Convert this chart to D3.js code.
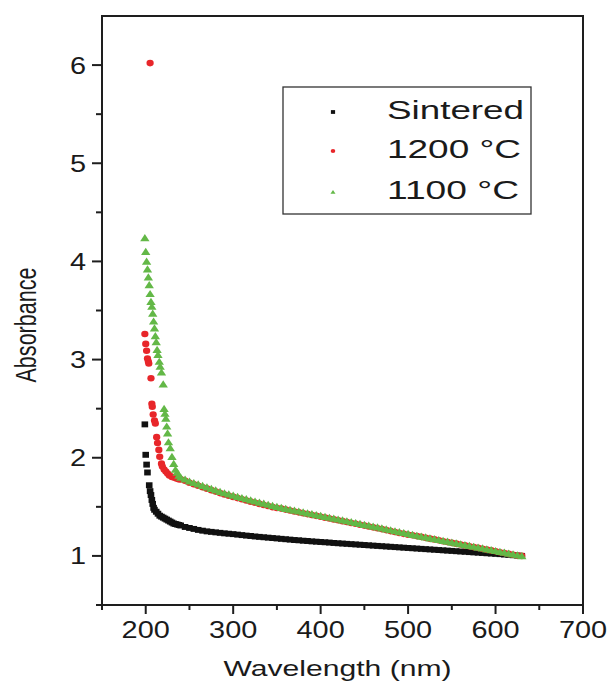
<!DOCTYPE html>
<html lang="en">
<head>
    <meta charset="UTF-8">
    <title>Absorbance</title>
    <script src="https://d3js.org/d3.v7.min.js"></script>
    <style>
        body { margin: 0; background: #fff; }
        text {
            font-family: 'Liberation Sans', Arial, sans-serif;
            fill: #1a1a1a;
        }
    </style>
</head>
<body>
<script>

    // wavelength grid (nm) for the smooth part of all three curves
    const gridNm = [240,245,250,255,260,265,270,275,280,285,290,295,300,305,310,315,320,325,330,335,340,345,350,
        355,360,365,370,375,380,385,390,395,400,405,410,415,420,425,430,435,440,445,450,455,460,465,470,475,480,485,490,495,500,
        505,510,515,520,525,530,535,540,545,550,555,560,565,570,575,580,585,590,595,600,605,610,615,620,625,630];

    const sinteredGrid = [1.31,1.295,1.285,1.275,1.265,1.257,1.25,1.245,1.24,1.235,1.23,1.226,1.222,1.217,1.212,1.207,1.203,1.198,1.194,1.19,1.186,1.182,1.178,
        1.174,1.17,1.166,1.162,1.159,1.155,1.152,1.148,1.145,1.142,1.139,1.136,1.132,1.129,1.126,1.123,1.12,1.117,1.114,1.111,1.108,1.105,1.102,1.099,1.096,1.093,1.09,1.087,1.084,1.081,
        1.078,1.075,1.072,1.069,1.066,1.063,1.06,1.057,1.054,1.051,1.048,1.045,1.042,1.039,1.036,1.033,1.03,1.027,1.024,1.021,1.018,1.014,1.011,1.007,1.004,1.0];

    const c1200Grid = [1.78,1.765,1.745,1.73,1.715,1.70,1.685,1.67,1.655,1.64,1.625,1.613,1.601,1.589,1.577,1.565,1.553,1.541,1.53,1.519,1.508,1.497,1.488,
        1.482,1.472,1.462,1.453,1.444,1.435,1.426,1.417,1.408,1.399,1.39,1.381,1.372,1.363,1.354,1.345,1.336,1.327,1.318,1.309,1.3,1.291,1.282,1.273,1.263,1.253,1.243,1.234,1.225,1.216,
        1.211,1.202,1.194,1.185,1.176,1.168,1.159,1.15,1.142,1.133,1.125,1.116,1.107,1.099,1.09,1.082,1.073,1.064,1.056,1.047,1.038,1.03,1.021,1.012,1.004,1.0];

    const c1100Grid = [1.80,1.78,1.76,1.745,1.73,1.715,1.70,1.685,1.67,1.655,1.64,1.628,1.616,1.604,1.592,1.58,1.568,1.556,1.545,1.534,1.523,1.512,1.502,
        1.492,1.482,1.472,1.463,1.454,1.445,1.436,1.427,1.418,1.409,1.4,1.391,1.382,1.373,1.364,1.355,1.346,1.337,1.328,1.319,1.31,1.301,1.292,1.283,1.273,1.263,1.253,1.244,1.235,1.226,
        1.216,1.207,1.199,1.19,1.181,1.173,1.164,1.155,1.147,1.138,1.13,1.121,1.112,1.104,1.095,1.087,1.078,1.069,1.061,1.052,1.043,1.035,1.026,1.017,1.009,1.0];

    // steep UV edge, read point by point
    const sinteredEdgeNm  = [199,200,201,202,204,205,206,207,208,209,210,212,214,216,218,220,222,224,226,228,230,232,234,236,238];
    const sinteredEdgeAbs = [2.34,2.03,1.93,1.85,1.72,1.66,1.62,1.57,1.53,1.49,1.47,1.45,1.43,1.41,1.40,1.39,1.38,1.37,1.36,1.35,1.34,1.33,1.325,1.32,1.315];

    const c1200EdgeNm  = [199,200,201,202,203,203.5,205,206,207,207.5,208.5,210,211,212.5,213.5,215,216,218,219,221,223,225,227,230,233,236,238];
    const c1200EdgeAbs = [3.26,3.16,3.09,3.01,2.98,2.96,6.02,2.81,2.55,2.52,2.44,2.38,2.35,2.21,2.15,2.08,2.01,1.94,1.91,1.88,1.86,1.84,1.82,1.805,1.795,1.785,1.78];

    const c1100EdgeNm  = [199,200,201,202,203,204,205,206,207,208,209,210,211,212,213,214,215.5,216.5,218,220,221,222,223,224,225,226,228,230,232,234,236,238];
    const c1100EdgeAbs = [4.24,4.10,4.00,3.92,3.84,3.76,3.67,3.59,3.54,3.47,3.39,3.32,3.24,3.18,3.10,3.05,2.98,2.93,2.87,2.75,2.50,2.45,2.40,2.32,2.25,2.16,2.10,2.01,1.94,1.88,1.85,1.82];

    const seriesNames = ['Sintered', '1200 \u00B0C', '1100 \u00B0C'];
    const xTicks = [200,300,400,500,600,700];
    const yTicks = [1,2,3,4,5,6];

    const width = 613, height = 686;
    const svg = d3.select("body").append("svg").attr("width", width).attr("height", height);

    const x = d3.scaleLinear().domain([150, 700]).range([102, 583]);
    const y = d3.scaleLinear().domain([0.5, 6.5]).range([605, 16]);

    const toPoints = (nm, abs) => nm.map((d, i) => ({nm: d, v: abs[i]}));
    const series = [
        {name: seriesNames[0], color: '#111111', shape: 'square', size: 6.6,
            pts: toPoints(sinteredEdgeNm.concat(gridNm), sinteredEdgeAbs.concat(sinteredGrid))},
        {name: seriesNames[1], color: '#e8262a', shape: 'circle', size: 6.6,
            pts: toPoints(c1200EdgeNm.concat(gridNm), c1200EdgeAbs.concat(c1200Grid))},
        {name: seriesNames[2], color: '#63b847', shape: 'triangle', size: 7.8,
            pts: toPoints(c1100EdgeNm.concat(gridNm), c1100EdgeAbs.concat(c1100Grid))}
    ];

    function marker(shape, s) {
        if (shape === 'square') return `M${-s*0.5},${-s*0.45}h${s}v${s*0.9}h${-s}Z`;
        if (shape === 'triangle') return `M0,${-s*0.5}L${s*0.6},${s*0.42}L${-s*0.6},${s*0.42}Z`;
        const rx = s*0.55, ry = s*0.5;
        return `M${-rx},0a${rx},${ry} 0 1,0 ${2*rx},0a${rx},${ry} 0 1,0 ${-2*rx},0Z`;
    }

    // data
    series.forEach(s => {
        svg.append("g").selectAll("path")
            .data(s.pts)
            .enter().append("path")
            .attr("transform", d => `translate(${x(d.nm)},${y(d.v)})`)
            .attr("d", marker(s.shape, s.size))
            .style("fill", s.color);
    });

    // axes (offset 0 so the 2px lines fall on whole pixels)
    const gx = svg.append("g").attr("transform", "translate(0,605)");
    gx.call(d3.axisBottom(x).offset(0).tickValues(xTicks).tickSize(9).tickSizeOuter(0).tickFormat(""));
    gx.append("g").call(d3.axisBottom(x).offset(0).tickValues([150,250,350,450,550,650]).tickSize(5).tickFormat(""))
        .select(".domain").remove();

    const gy = svg.append("g").attr("transform", "translate(102,0)");
    gy.call(d3.axisLeft(y).offset(0).tickValues(yTicks).tickSize(10).tickSizeOuter(0).tickFormat(""));
    gy.append("g").call(d3.axisLeft(y).offset(0).tickValues([0.5,1.5,2.5,3.5,4.5,5.5]).tickSize(6).tickFormat(""))
        .select(".domain").remove();

    svg.selectAll(".domain, .tick line").attr("stroke", "#1e1e1e").attr("stroke-width", 2);

    // top and right frame
    svg.append("path").attr("d", `M101,${y(6.5)}H${x(700)}V605`)
        .style("fill", "none").style("stroke", "#1e1e1e").style("stroke-width", 2);

    // tick labels
    svg.append("g").selectAll("text").data(xTicks).enter().append("text")
        .attr("transform", d => `translate(${x(d)},638) scale(1.23,1)`)
        .attr("text-anchor", "middle").style("font-size", "23.5px").text(d => d);
    svg.append("g").selectAll("text").data(yTicks).enter().append("text")
        .attr("transform", d => `translate(86,${y(d) + 8.5}) scale(1.23,1)`)
        .attr("text-anchor", "end").style("font-size", "23.5px").text(d => d);

    // axis titles
    svg.append("text").attr("x", 337.5).attr("y", 676).attr("text-anchor", "middle")
        .attr("textLength", 228).attr("lengthAdjust", "spacingAndGlyphs")
        .style("font-size", "22.5px").text("Wavelength (nm)");
    svg.append("text").attr("transform", "translate(36,325) rotate(-90)").attr("text-anchor", "middle")
        .attr("textLength", 115).attr("lengthAdjust", "spacingAndGlyphs")
        .style("font-size", "29px").text("Absorbance");

    // legend
    const legend = svg.append("g");
    legend.append("rect").attr("x", 283).attr("y", 87).attr("width", 248).attr("height", 127)
        .style("fill", "none").style("stroke", "#333").style("stroke-width", 1.3);
    const rowY = [112, 151, 192];
    const textW = [137, 134, 132];
    series.forEach((s, i) => {
        legend.append("path").attr("transform", `translate(333,${rowY[i]})`)
            .attr("d", marker(s.shape, 4.2)).style("fill", s.color);
        legend.append("text").attr("x", 387).attr("y", rowY[i] + 7)
            .attr("textLength", textW[i]).attr("lengthAdjust", "spacingAndGlyphs")
            .style("font-size", "26px").text(s.name);
    });

</script>
</body>
</html>
